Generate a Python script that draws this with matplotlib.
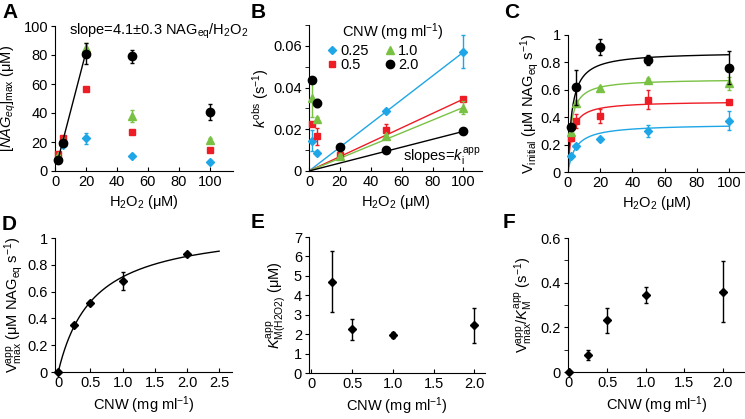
import numpy as np
import matplotlib
matplotlib.use('Agg')
import matplotlib.pyplot as plt
from matplotlib.ticker import MultipleLocator

plt.rcParams['font.family'] = ['Liberation Sans', 'DejaVu Sans']
plt.rcParams['mathtext.fontset'] = 'custom'
plt.rcParams['mathtext.rm'] = 'Liberation Sans'
plt.rcParams['mathtext.it'] = 'Liberation Sans:italic'
plt.rcParams['font.size'] = 10.5

# data
h2o2 = [2, 5, 20, 50, 100]
cnw_labels = ['0.25', '0.5', '1.0', '2.0']
cols = ['#1ea6e6', '#ee1c25', '#79c143', 'black']
mks = ['D', 's', '^', 'o']
msz = [4, 5, 5.5, 6]

# A: [NAGeq]max
nag_max = [[8, 18, 22.5, 10.5, 6.5],
           [11.5, 23, 56.5, 27, 14.7],
           [10, 21, 85, 38, 21.4],
           [7.6, 19, 81, 79, 40.5]]
nag_err = [[1, 1, 4, 1, 1],
           [1, 1, 1, 1, 1],
           [1, 1, 3, 4, 1.5],
           [1, 1.5, 7, 4.5, 5.5]]
slope_A = 4.1

# B: kobs
kobs = [[0.0145, 0.0088, 0.0115, 0.0287, 0.0572],
        [0.0226, 0.0167, 0.0076, 0.0195, 0.0344],
        [0.0349, 0.0251, 0.0073, 0.0167, 0.0304],
        [0.0434, 0.0325, 0.0115, 0.0103, 0.0190]]
kobs_err = [[0.005, 0.001, 0.001, 0.001, 0.008],
            [0.001, 0.004, 0.001, 0.003, 0.001],
            [0.009, 0.001, 0.001, 0.001, 0.003],
            [0.001, 0.002, 0.001, 0.001, 0.001]]
ki_app = [0.00057, 0.000345, 0.000305, 0.00019]

# C: Vinitial
vinit = [[0.12, 0.188, 0.239, 0.30, 0.373],
         [0.245, 0.373, 0.41, 0.529, 0.512],
         [0.29, 0.50, 0.61, 0.668, 0.646],
         [0.33, 0.617, 0.912, 0.817, 0.76]]
vinit_err = [[0.015, 0.02, 0.01, 0.045, 0.07],
             [0.02, 0.05, 0.05, 0.07, 0.01],
             [0.02, 0.02, 0.02, 0.015, 0.05],
             [0.02, 0.13, 0.06, 0.035, 0.12]]

# D, E, F
cnw = [0, 0.25, 0.5, 1.0, 2.0]
vmax_app = [0, 0.35, 0.517, 0.68, 0.877]
vmax_err = [0, 0.012, 0.01, 0.065, 0.01]
vmax_fit = 1.1
kcnw_fit = 0.55
km_app = [4.7, 2.25, 1.97, 2.45]
km_err = [1.58, 0.53, 0.15, 0.92]
eff = [0, 0.075, 0.231, 0.345, 0.36]
eff_err = [0, 0.022, 0.055, 0.035, 0.137]

fig = plt.figure(figsize=(7.45, 4.19), dpi=100)
W, H = 745., 419.
def box(l, r, t, b):
    return [l/W, 1-b/H, (r-l)/W, (b-t)/H]

axA = fig.add_axes(box(55, 233, 26, 171))
axB = fig.add_axes(box(309, 482, 25, 171))
axC = fig.add_axes(box(568, 745, 35, 172))
axD = fig.add_axes(box(55, 232, 238, 372))
axE = fig.add_axes(box(309, 485, 237, 373))
axF = fig.add_axes(box(568, 745, 238, 372))

for ax in [axA, axB, axC, axD, axE, axF]:
    for s in ['top', 'right']:
        ax.spines[s].set_visible(False)
    ax.tick_params(axis='x', direction='in', length=3, pad=3)
    ax.tick_params(axis='y', direction='out', length=3, pad=2)
    ax.tick_params(which='minor', axis='y', direction='out', length=3)
    ax.tick_params(which='minor', axis='x', length=0)

ekw = dict(ls='none', capsize=1.5, elinewidth=1, capthick=1, clip_on=False)

# A
for i in range(4):
    axA.errorbar(h2o2, nag_max[i], yerr=nag_err[i], fmt=mks[i], color=cols[i],
                 ms=msz[i], zorder=3+i, **ekw)
xa = np.array([2, 20])
axA.plot(xa, slope_A*xa, color='black', lw=1, zorder=10)
axA.set_xlim(0, 115)
axA.set_ylim(0, 100)
axA.set_xticks([0, 20, 40, 60, 80, 100])
axA.set_yticks([0, 20, 40, 60, 80, 100])
axA.text(9, 96, 'slope=4.1±0.3 NAG$_{\\rm eq}$/H$_2$O$_2$', fontsize=10.5, va='center')
axA.set_xlabel('H$_2$O$_2$ (μM)', labelpad=3)
axA.set_ylabel('[$\\it{NAG}_{\\it{eq}}$]$_{\\rm max}$ (μM)', labelpad=4)

# B
xb = np.array([0, 100])
for i in range(4):
    axB.plot(xb, ki_app[i]*xb, color=cols[i], lw=1, zorder=2)
hs = []
for i in range(4):
    h = axB.errorbar(h2o2, kobs[i], yerr=kobs_err[i], fmt=mks[i], color=cols[i],
                     ms=msz[i], zorder=3+i, **ekw)
    hs.append(h[0])
axB.set_xlim(0, 112)
axB.set_ylim(0, 0.07)
axB.set_xticks([0, 20, 40, 60, 80, 100])
axB.set_yticks([0, 0.02, 0.04, 0.06])
axB.set_yticklabels(['0', '0.02', '0.04', '0.06'])
axB.yaxis.set_minor_locator(MultipleLocator(0.01))
axB.legend(hs, cnw_labels, ncol=2, frameon=False, loc='upper left',
           bbox_to_anchor=(0.09, 0.87), handletextpad=0.1, columnspacing=0.9,
           handlelength=1.0, labelspacing=0.0, borderpad=0.0, borderaxespad=0.0,
           fontsize=10.5)
axB.text(21.5, 0.0664, 'CNW (mg ml$^{-1}$)', ha='left', va='center')
axB.text(111, 0.0066, 'slopes=$k_{\\rm i}^{\\rm app}$', ha='right', va='center')
axB.set_xlabel('H$_2$O$_2$ (μM)', labelpad=3)
axB.set_ylabel('$k^{\\rm obs}$ (s$^{-1}$)', labelpad=2)

# C
xc = np.linspace(0, 100, 400)
for i in range(4):
    vm = vmax_app[i+1]
    km = km_app[i]
    axC.plot(xc, vm*xc/(km+xc), color=cols[i], lw=1, zorder=2)
    axC.errorbar(h2o2, vinit[i], yerr=vinit_err[i], fmt=mks[i], color=cols[i],
                 ms=msz[i], zorder=3+i, **ekw)
axC.set_xlim(0, 110)
axC.set_ylim(0, 1)
axC.set_xticks([0, 20, 40, 60, 80, 100])
axC.set_yticks([0, 0.2, 0.4, 0.6, 0.8, 1])
axC.set_yticklabels(['0', '0.2', '0.4', '0.6', '0.8', '1'])
axC.set_xlabel('H$_2$O$_2$ (μM)', labelpad=3)
axC.set_ylabel('V$_{\\rm initial}$ (μM NAG$_{\\rm eq}$ s$^{-1}$)', labelpad=0)

# D
xd = np.linspace(0, 2.5, 300)
axD.plot(xd, vmax_fit*xd/(kcnw_fit+xd), color='black', lw=1)
axD.errorbar(cnw, vmax_app, yerr=vmax_err, fmt='D', color='black', ms=4, **ekw)
axD.set_xlim(-0.05, 2.7)
axD.set_ylim(0, 1)
axD.set_xticks([0, 0.5, 1.0, 1.5, 2.0, 2.5])
axD.set_xticklabels(['0', '0.5', '1.0', '1.5', '2.0', '2.5'])
axD.set_yticks([0, 0.2, 0.4, 0.6, 0.8, 1])
axD.set_yticklabels(['0', '0.2', '0.4', '0.6', '0.8', '1'])
axD.set_xlabel('CNW (mg ml$^{-1}$)', labelpad=3)
axD.set_ylabel('V$^{\\rm app}_{\\rm max}$ (μM NAG$_{\\rm eq}$ s$^{-1}$)', labelpad=2)

# E
axE.errorbar(cnw[1:], km_app, yerr=km_err, fmt='D', color='black', ms=4, **ekw)
axE.set_xlim(-0.03, 2.13)
axE.set_ylim(0, 7)
axE.set_xticks([0, 0.5, 1.0, 1.5, 2.0])
axE.set_xticklabels(['0', '0.5', '1.0', '1.5', '2.0'])
axE.set_yticks(range(8))
axE.set_xlabel('CNW (mg ml$^{-1}$)', labelpad=3)
axE.set_ylabel('$K^{\\rm app}_{\\rm M(H2O2)}$ (μM)', labelpad=4)

# F
axF.errorbar(cnw, eff, yerr=eff_err, fmt='D', color='black', ms=4, **ekw)
axF.set_xlim(-0.01, 2.29)
axF.set_ylim(0, 0.6)
axF.set_xticks([0, 0.5, 1.0, 1.5, 2.0])
axF.set_xticklabels(['0', '0.5', '1.0', '1.5', '2.0'])
axF.set_yticks([0, 0.2, 0.4, 0.6])
axF.set_yticklabels(['0', '0.2', '0.4', '0.6'])
axF.yaxis.set_minor_locator(MultipleLocator(0.1))
axF.set_xlabel('CNW (mg ml$^{-1}$)', labelpad=3)
axF.set_ylabel('V$^{\\rm app}_{\\rm max}$/$K^{\\rm app}_{\\rm M}$ (s$^{-1}$)', labelpad=4)

# panel letters
for lab, x, y in [('A', 2, 13), ('B', 251, 13), ('C', 504, 13),
                  ('D', 2, 224), ('E', 251, 223), ('F', 503, 223)]:
    fig.text(x/W, 1-y/H, lab, fontsize=15, fontweight='bold', va='center', ha='left')

fig.savefig('out.png', dpi=100)
